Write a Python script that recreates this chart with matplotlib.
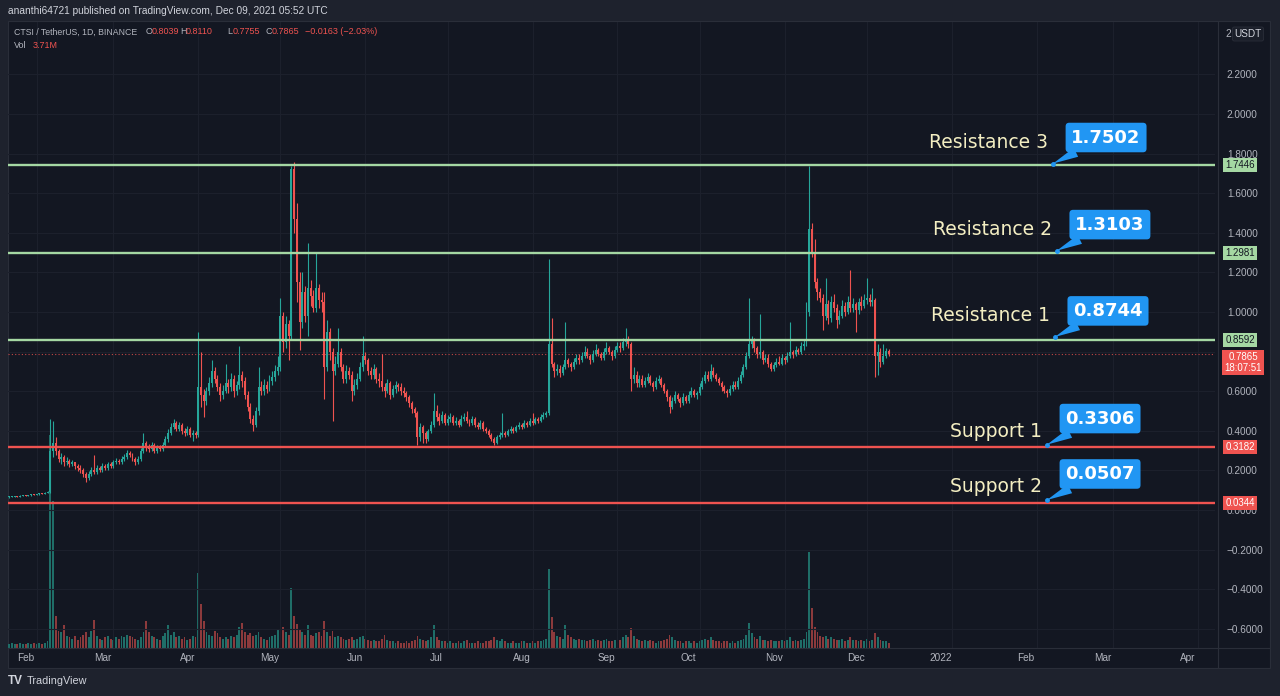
import matplotlib
matplotlib.use("Agg")
import matplotlib.pyplot as plt
from matplotlib.patches import Rectangle
from matplotlib.lines import Line2D
from matplotlib.transforms import blended_transform_factory
import numpy as np
import pandas as pd

W, H = 1280, 696

# ---- data (CTSI/USDT daily, Binance) ----
start_date = "2021-01-22"
first_open = 0.064

closes = [
    0.066, 0.068, 0.070, 0.068, 0.071, 0.073, 0.072, 0.075, 0.078, 0.077,
    0.080, 0.083, 0.082, 0.086, 0.090, 0.300, 0.340, 0.300, 0.260, 0.270,
    0.240, 0.250, 0.230, 0.240, 0.220, 0.210, 0.200, 0.180, 0.160, 0.180,
    0.200, 0.190, 0.210, 0.200, 0.220, 0.210, 0.230, 0.220, 0.240, 0.250,
    0.240, 0.260, 0.270, 0.290, 0.280, 0.260, 0.240, 0.260, 0.300, 0.340,
    0.320, 0.310, 0.330, 0.300, 0.320, 0.310, 0.330, 0.360, 0.390, 0.420,
    0.440, 0.410, 0.430, 0.400, 0.390, 0.410, 0.380, 0.390, 0.380, 0.620,
    0.580, 0.550, 0.600, 0.640, 0.700, 0.660, 0.620, 0.580, 0.600, 0.640,
    0.620, 0.660, 0.600, 0.630, 0.680, 0.650, 0.580, 0.520, 0.460, 0.430,
    0.500, 0.620, 0.600, 0.630, 0.610, 0.650, 0.670, 0.700, 0.720, 0.980,
    0.850, 0.940, 0.880, 1.720, 1.470, 1.150, 0.950, 1.100, 0.980, 1.120,
    1.080, 1.020, 1.120, 1.060, 1.050, 0.720, 0.900, 0.800, 0.700, 0.740,
    0.800, 0.720, 0.660, 0.700, 0.680, 0.600, 0.630, 0.660, 0.720, 0.780,
    0.760, 0.700, 0.680, 0.710, 0.660, 0.650, 0.620, 0.600, 0.640, 0.580,
    0.610, 0.630, 0.620, 0.600, 0.590, 0.570, 0.540, 0.510, 0.490, 0.370,
    0.420, 0.390, 0.360, 0.400, 0.430, 0.500, 0.470, 0.450, 0.480, 0.440,
    0.460, 0.470, 0.440, 0.450, 0.430, 0.460, 0.470, 0.450, 0.440, 0.460,
    0.430, 0.420, 0.440, 0.410, 0.400, 0.380, 0.360, 0.340, 0.370, 0.380,
    0.390, 0.380, 0.400, 0.410, 0.400, 0.420, 0.430, 0.420, 0.440, 0.430,
    0.450, 0.440, 0.460, 0.450, 0.470, 0.480, 0.490, 0.840, 0.740, 0.700,
    0.710, 0.690, 0.720, 0.760, 0.740, 0.720, 0.750, 0.770, 0.760, 0.780,
    0.800, 0.780, 0.760, 0.790, 0.810, 0.790, 0.770, 0.800, 0.820, 0.800,
    0.780, 0.810, 0.830, 0.820, 0.850, 0.860, 0.840, 0.660, 0.680, 0.640,
    0.660, 0.630, 0.650, 0.670, 0.640, 0.620, 0.650, 0.660, 0.630, 0.600,
    0.570, 0.520, 0.550, 0.580, 0.560, 0.540, 0.570, 0.550, 0.580, 0.600,
    0.580, 0.590, 0.620, 0.650, 0.680, 0.660, 0.700, 0.680, 0.660, 0.640,
    0.620, 0.600, 0.590, 0.610, 0.630, 0.620, 0.650, 0.680, 0.720, 0.780,
    0.840, 0.860, 0.820, 0.790, 0.800, 0.760, 0.770, 0.740, 0.710, 0.730,
    0.750, 0.740, 0.770, 0.760, 0.780, 0.800, 0.790, 0.810, 0.800, 0.830,
    0.840, 1.000, 1.420, 1.300, 1.150, 1.100, 1.070, 0.980, 1.040, 0.970,
    1.050, 1.020, 0.960, 0.980, 1.030, 1.000, 1.050, 1.020, 1.040, 1.010,
    1.050, 1.030, 1.060, 1.070, 1.050, 1.060, 0.780, 0.800, 0.750, 0.780,
    0.8039, 0.7865,
]

highs = [
    0.069, 0.071, 0.073, 0.072, 0.074, 0.076, 0.075, 0.078, 0.081, 0.080,
    0.083, 0.086, 0.086, 0.089, 0.094, 0.460, 0.450, 0.370, 0.310, 0.290,
    0.280, 0.270, 0.260, 0.255, 0.245, 0.230, 0.225, 0.210, 0.190, 0.195,
    0.215, 0.280, 0.225, 0.220, 0.235, 0.230, 0.245, 0.240, 0.255, 0.265,
    0.260, 0.275, 0.285, 0.305, 0.300, 0.290, 0.270, 0.275, 0.315, 0.390,
    0.350, 0.335, 0.345, 0.340, 0.330, 0.330, 0.345, 0.375, 0.410, 0.440,
    0.460, 0.450, 0.445, 0.440, 0.415, 0.425, 0.420, 0.405, 0.400, 0.900,
    0.800, 0.610, 0.620, 0.670, 0.760, 0.720, 0.680, 0.640, 0.630, 0.740,
    0.660, 0.690, 0.680, 0.650, 0.830, 0.700, 0.670, 0.600, 0.540, 0.480,
    0.520, 0.720, 0.650, 0.660, 0.650, 0.680, 0.700, 0.730, 0.780, 1.070,
    1.000, 0.980, 0.960, 1.740, 1.760, 1.550, 1.200, 1.200, 1.130, 1.350,
    1.160, 1.110, 1.300, 1.140, 1.100, 1.100, 0.960, 0.920, 0.820, 0.780,
    0.920, 0.820, 0.740, 0.730, 0.720, 0.700, 0.660, 0.690, 0.750, 0.880,
    0.800, 0.770, 0.720, 0.740, 0.720, 0.690, 0.790, 0.640, 0.660, 0.650,
    0.630, 0.650, 0.640, 0.640, 0.620, 0.600, 0.580, 0.550, 0.520, 0.500,
    0.440, 0.430, 0.400, 0.410, 0.450, 0.590, 0.530, 0.490, 0.500, 0.490,
    0.480, 0.490, 0.480, 0.470, 0.460, 0.480, 0.490, 0.500, 0.460, 0.475,
    0.470, 0.445, 0.455, 0.450, 0.420, 0.410, 0.390, 0.370, 0.380, 0.395,
    0.490, 0.400, 0.410, 0.425, 0.420, 0.430, 0.445, 0.440, 0.455, 0.450,
    0.465, 0.490, 0.470, 0.470, 0.485, 0.495, 0.500, 1.270, 0.970, 0.750,
    0.740, 0.730, 0.740, 0.950, 0.770, 0.750, 0.770, 0.790, 0.790, 0.800,
    0.830, 0.820, 0.790, 0.810, 0.840, 0.820, 0.800, 0.820, 0.850, 0.830,
    0.810, 0.830, 0.850, 0.850, 0.870, 0.920, 0.880, 0.850, 0.720, 0.700,
    0.680, 0.680, 0.670, 0.690, 0.680, 0.650, 0.670, 0.680, 0.670, 0.640,
    0.610, 0.580, 0.570, 0.600, 0.590, 0.570, 0.590, 0.580, 0.600, 0.620,
    0.610, 0.600, 0.640, 0.670, 0.700, 0.700, 0.740, 0.720, 0.690, 0.670,
    0.650, 0.630, 0.610, 0.630, 0.650, 0.650, 0.670, 0.700, 0.740, 0.800,
    1.070, 0.880, 0.870, 0.830, 0.990, 0.810, 0.790, 0.790, 0.750, 0.750,
    0.770, 0.780, 0.790, 0.780, 0.800, 0.950, 0.810, 0.830, 0.820, 0.850,
    0.860, 1.050, 1.740, 1.450, 1.370, 1.170, 1.120, 1.090, 1.170, 1.060,
    1.080, 1.090, 1.040, 1.010, 1.060, 1.050, 1.080, 1.210, 1.070, 1.050,
    1.070, 1.080, 1.090, 1.170, 1.090, 1.120, 1.070, 0.840, 0.820, 0.840,
    0.820, 0.8110,
]

lows = [
    0.062, 0.064, 0.066, 0.066, 0.066, 0.069, 0.070, 0.070, 0.073, 0.075,
    0.075, 0.078, 0.079, 0.080, 0.084, 0.088, 0.270, 0.280, 0.240, 0.230,
    0.220, 0.225, 0.215, 0.220, 0.205, 0.195, 0.185, 0.165, 0.140, 0.150,
    0.170, 0.180, 0.180, 0.190, 0.190, 0.200, 0.200, 0.210, 0.210, 0.230,
    0.230, 0.230, 0.250, 0.260, 0.270, 0.250, 0.225, 0.230, 0.250, 0.290,
    0.300, 0.295, 0.300, 0.290, 0.290, 0.300, 0.300, 0.320, 0.345, 0.380,
    0.410, 0.400, 0.400, 0.385, 0.375, 0.380, 0.370, 0.350, 0.365, 0.370,
    0.520, 0.470, 0.530, 0.580, 0.620, 0.640, 0.600, 0.550, 0.560, 0.590,
    0.590, 0.600, 0.570, 0.580, 0.610, 0.620, 0.560, 0.500, 0.440, 0.400,
    0.420, 0.480, 0.580, 0.580, 0.590, 0.600, 0.630, 0.650, 0.680, 0.700,
    0.800, 0.820, 0.760, 0.860, 1.400, 1.050, 0.810, 0.920, 0.950, 0.880,
    1.030, 1.000, 1.000, 1.020, 1.000, 0.560, 0.700, 0.760, 0.450, 0.680,
    0.720, 0.700, 0.640, 0.640, 0.660, 0.550, 0.580, 0.610, 0.650, 0.700,
    0.740, 0.680, 0.660, 0.660, 0.640, 0.620, 0.600, 0.570, 0.590, 0.560,
    0.570, 0.590, 0.600, 0.580, 0.570, 0.550, 0.520, 0.490, 0.470, 0.330,
    0.350, 0.340, 0.340, 0.350, 0.390, 0.420, 0.450, 0.430, 0.440, 0.430,
    0.430, 0.445, 0.430, 0.430, 0.420, 0.425, 0.450, 0.440, 0.425, 0.430,
    0.420, 0.410, 0.410, 0.400, 0.390, 0.370, 0.350, 0.330, 0.335, 0.360,
    0.370, 0.370, 0.375, 0.390, 0.390, 0.395, 0.410, 0.410, 0.415, 0.420,
    0.425, 0.430, 0.435, 0.440, 0.445, 0.460, 0.470, 0.480, 0.720, 0.670,
    0.680, 0.670, 0.680, 0.710, 0.720, 0.700, 0.710, 0.740, 0.740, 0.750,
    0.770, 0.770, 0.740, 0.750, 0.780, 0.780, 0.760, 0.760, 0.790, 0.790,
    0.760, 0.770, 0.800, 0.800, 0.810, 0.830, 0.820, 0.600, 0.640, 0.620,
    0.620, 0.620, 0.620, 0.640, 0.630, 0.600, 0.610, 0.640, 0.620, 0.590,
    0.550, 0.490, 0.510, 0.540, 0.550, 0.520, 0.530, 0.540, 0.540, 0.570,
    0.570, 0.560, 0.580, 0.610, 0.640, 0.650, 0.650, 0.670, 0.650, 0.630,
    0.600, 0.590, 0.570, 0.580, 0.600, 0.610, 0.610, 0.640, 0.670, 0.710,
    0.770, 0.820, 0.800, 0.770, 0.770, 0.740, 0.750, 0.720, 0.700, 0.700,
    0.720, 0.730, 0.730, 0.740, 0.750, 0.770, 0.770, 0.780, 0.790, 0.790,
    0.810, 0.830, 0.980, 1.280, 1.120, 1.060, 1.050, 0.910, 0.960, 0.940,
    0.950, 1.000, 0.920, 0.940, 0.970, 0.980, 0.990, 1.000, 1.000, 0.900,
    0.990, 1.010, 1.020, 1.040, 1.030, 1.030, 0.670, 0.680, 0.720, 0.740,
    0.770, 0.7755,
]

# volume in millions
volumes = [
    3, 4, 3, 3, 4, 3, 3, 4, 3, 4,
    3, 4, 3, 4, 5, 160, 110, 24, 13, 12,
    17, 9, 8, 7, 9, 6, 8, 10, 12, 8,
    13, 21, 9, 7, 6, 8, 9, 7, 6, 8,
    7, 9, 8, 10, 9, 8, 7, 6, 8, 12,
    20, 12, 9, 8, 7, 6, 9, 11, 17, 10,
    12, 8, 9, 7, 8, 6, 7, 9, 8, 56,
    33, 20, 12, 10, 9, 13, 11, 8, 7, 8,
    7, 9, 8, 10, 16, 19, 12, 10, 11, 9,
    10, 12, 8, 7, 6, 8, 9, 10, 14, 26,
    16, 12, 10, 45, 24, 18, 14, 12, 10, 17,
    10, 9, 11, 12, 9, 20, 12, 9, 13, 8,
    9, 8, 7, 6, 7, 8, 6, 7, 8, 9,
    7, 6, 5, 6, 5, 5, 7, 10, 6, 5,
    5, 4, 5, 4, 4, 5, 4, 5, 6, 9,
    7, 6, 5, 6, 8, 17, 8, 6, 5, 5,
    4, 5, 4, 4, 5, 4, 5, 6, 4, 4,
    4, 5, 4, 4, 5, 5, 6, 8, 6, 5,
    7, 5, 4, 4, 5, 4, 4, 5, 5, 4,
    4, 5, 4, 5, 5, 6, 7, 59, 23, 12,
    9, 8, 7, 17, 10, 8, 7, 6, 7, 6,
    6, 5, 6, 7, 5, 6, 5, 6, 7, 5,
    5, 6, 7, 6, 8, 10, 8, 15, 9, 7,
    6, 5, 6, 5, 6, 5, 4, 5, 5, 6,
    7, 10, 8, 6, 5, 5, 4, 5, 5, 4,
    5, 4, 5, 6, 7, 6, 8, 6, 5, 5,
    4, 5, 5, 4, 5, 4, 5, 6, 7, 10,
    19, 11, 8, 7, 9, 6, 6, 5, 6, 5,
    5, 5, 6, 5, 6, 8, 5, 6, 5, 6,
    7, 12, 72, 30, 16, 12, 9, 8, 9, 7,
    8, 7, 6, 6, 7, 5, 6, 8, 6, 6,
    5, 6, 5, 7, 5, 6, 11, 8, 6, 5,
    5, 3.71,
]

# horizontal levels drawn on the chart and their price-scale tags
level_prices = [1.7446, 1.2981, 0.8592, 0.3182, 0.0344]
level_is_resistance = [True, True, True, False, False]

# callout labels
callout_names = ["Resistance 3", "Resistance 2", "Resistance 1", "Support 1", "Support 2"]
callout_values = [1.7502, 1.3103, 0.8744, 0.3306, 0.0507]

header = "ananthi64721 published on TradingView.com, Dec 09, 2021 05:52 UTC"
symbol = "CTSI / TetherUS, 1D, BINANCE"
change_text = "\u22120.0163 (\u22122.03%)"
countdown = "18:07:51"

# ---- style ----
BG_OUT = "#1e222d"
BG = "#131722"
GRID = "#1c202c"
BORDER = "#2a2e39"
TXT = "#b2b5be"
UP = "#26a69a"
DOWN = "#ef5350"
RES_COL = "#a5d8a3"
SUP_COL = "#ef5350"
BLUE = "#2196f3"
NOTE = "#f3eec2"

plt.rcParams["font.family"] = ["Liberation Sans", "DejaVu Sans"]


def fx(px):
    return px / W


def fy(py):
    return 1 - py / H


fig = plt.figure(figsize=(W / 100, H / 100), dpi=100, facecolor=BG_OUT)

# chart panel background
fig.add_artist(Rectangle((fx(8), fy(668)), (1270 - 8) / W, (668 - 21) / H,
                         transform=fig.transFigure, facecolor=BG,
                         edgecolor=BORDER, linewidth=0.8, zorder=0))

rect = [fx(8), fy(648), (1215 - 8) / W, (648 - 22) / H]
ax_vol = fig.add_axes(rect)
ax = fig.add_axes(rect, sharex=ax_vol)
ax.patch.set_visible(False)
ax_vol.patch.set_visible(False)

n = len(closes)
x = np.arange(n)
c = np.array(closes)
o = np.array([first_open] + closes[:-1])
hi = np.array(highs)
lo = np.array(lows)
up = c >= o
colors = np.where(up, UP, DOWN)

# volume
vcolors = np.where(up, "#1f6e68", "#8c3a3c")
ax_vol.bar(x, volumes, width=0.68, color=vcolors, linewidth=0)
ax_vol.set_ylim(0, 470)
ax_vol.axis("off")

# candles
ax.vlines(x, lo, hi, colors=colors, linewidth=0.8, zorder=3)
body_bottom = np.minimum(o, c)
body_h = np.maximum(np.abs(c - o), 0.005)
ax.bar(x, body_h, bottom=body_bottom, width=0.72, color=colors, linewidth=0, zorder=4)

# axis limits
ax.set_xlim(-0.44, 440.1)
ax.set_ylim(-0.697, 2.465)

# time axis
t0 = pd.Timestamp(start_date)
months = pd.date_range("2021-02-01", "2022-04-01", freq="MS")
month_pos = np.array([(m - t0).days for m in months], dtype=float)
month_lbl = ["2022" if m.month == 1 else m.strftime("%b") for m in months]
ax.set_xticks(month_pos, minor=True)
ax.set_xticks(month_pos - 4)
ax.set_xticklabels(month_lbl)
ax.tick_params(axis="x", which="both", length=0, pad=3.5, labelsize=7.2, labelcolor=TXT)

# price axis (the 0.8 label sits under the live-price tag, so it stays blank)
price_ticks = np.round(np.arange(-0.6, 2.21, 0.2), 1)
ax.yaxis.tick_right()
ax.set_yticks(price_ticks)
ax.set_yticklabels(["" if v == 0.8 else f"{v:.4f}".replace("-", "\u2212") for v in price_ticks])
ax.tick_params(axis="y", length=0, pad=8.5, labelsize=7.2, labelcolor=TXT)

ax.grid(axis="y", which="major", color=GRID, linewidth=0.8, zorder=0)
ax.grid(axis="x", which="minor", color=GRID, linewidth=0.8, zorder=0)
for s in ax.spines.values():
    s.set_visible(False)

# separators
fig.add_artist(Line2D([fx(1218), fx(1218)], [fy(21), fy(668)], transform=fig.transFigure,
                      color=BORDER, linewidth=0.8))
fig.add_artist(Line2D([fx(8), fx(1270)], [fy(648), fy(648)], transform=fig.transFigure,
                      color=BORDER, linewidth=0.8))

tag_tr = blended_transform_factory(fig.transFigure, ax.transData)

# current price line and tag
last_close = closes[-1]
ax.axhline(last_close, color=DOWN, linewidth=0.8, linestyle=(0, (1, 2)), alpha=0.8, zorder=2)
ax.annotate(f"{last_close:.4f}\n{countdown}", xy=(fx(1243), last_close), xycoords=tag_tr,
            xytext=(0, -8), textcoords="offset pixels", ha="center", va="center",
            fontsize=7.0, color="white", linespacing=1.05, annotation_clip=False,
            bbox=dict(boxstyle="square,pad=0.22", fc=DOWN, ec="none"), zorder=9)

# level lines with price-scale tags
for p, is_res in zip(level_prices, level_is_resistance):
    col = RES_COL if is_res else SUP_COL
    ax.axhline(p, color=col, linewidth=1.7, zorder=6)
    ax.text(fx(1240), p, f"{p:.4f}", transform=tag_tr, ha="center", va="center",
            fontsize=7.0, color=BG if is_res else "white", clip_on=False,
            bbox=dict(boxstyle="square,pad=0.2", fc=col, ec="none"), zorder=9)

# callouts
anchor_pos = [381.0, 382.4, 381.7, 378.8, 378.8]
name_dy = [21, 21, 21, 13, 13]
for name, val, a, dy in zip(callout_names, callout_values, anchor_pos, name_dy):
    ax.annotate(f"{val:.4f}", xy=(a, val), xytext=(53, 26), textcoords="offset pixels",
                ha="center", va="center", fontsize=13, fontweight="bold", color="white",
                family="DejaVu Sans",
                bbox=dict(boxstyle="round,pad=0.32,rounding_size=0.2", fc=BLUE, ec="none"),
                arrowprops=dict(arrowstyle="wedge,tail_width=0.55,shrink_factor=0.5",
                                fc=BLUE, ec="none", shrinkA=0, shrinkB=0),
                zorder=10)
    ax.plot([a], [val], "o", ms=2.5, color=BLUE, zorder=11)
    ax.annotate(name, xy=(a, val), xytext=(-5, dy), textcoords="offset pixels",
                ha="right", va="center", fontsize=13.5, color=NOTE,
                family="DejaVu Sans", zorder=10)

# header and legend
fig.text(fx(8), fy(11), header, ha="left", va="center", fontsize=7.3, color="#d1d4dc")
fig.text(fx(14), fy(32), symbol, ha="left", va="center", fontsize=6.3, color=TXT)
ohlc = [("O", o[-1], 146), ("H", hi[-1], 180), ("L", lo[-1], 227), ("C", c[-1], 266)]
for lab, v, px in ohlc:
    fig.text(fx(px), fy(32), lab, ha="left", va="center", fontsize=6.5, color=TXT)
    fig.text(fx(px + 6), fy(32), f"{v:.4f}", ha="left", va="center", fontsize=6.5, color=DOWN)
fig.text(fx(305), fy(32), change_text, ha="left", va="center", fontsize=6.5, color=DOWN)
fig.text(fx(14), fy(46), "Vol", ha="left", va="center", fontsize=6.5, color=TXT)
fig.text(fx(33), fy(46), f"{volumes[-1]:.2f}M", ha="left", va="center", fontsize=6.5, color=DOWN)

# currency tag at top of price scale
fig.text(fx(1231), fy(34), "2", ha="right", va="center", fontsize=7.2, color=TXT)
fig.text(fx(1248), fy(34), "USDT", ha="center", va="center", fontsize=7.2, color="#d1d4dc",
         bbox=dict(boxstyle="round,pad=0.2", fc="#1a1e29", ec=BORDER, lw=0.6))

# footer logo
fig.text(fx(8), fy(681), "TV", ha="left", va="center", fontsize=8.5, fontweight="bold",
         color="#d1d4dc")
fig.text(fx(27), fy(681), "TradingView", ha="left", va="center", fontsize=7.8, color="#d1d4dc")

fig.savefig("out.png", dpi=100, facecolor=BG_OUT)
